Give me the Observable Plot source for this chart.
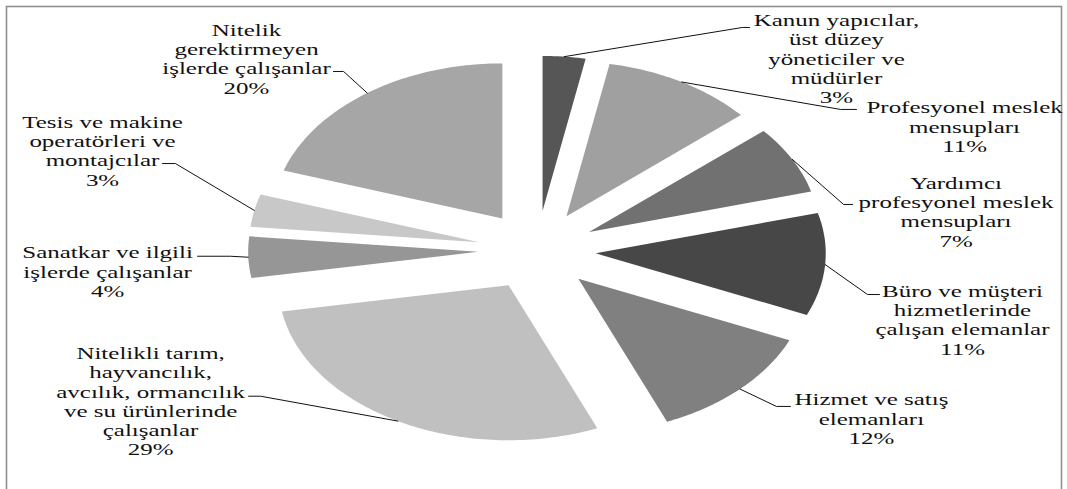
<!DOCTYPE html>
<html>
<head>
<meta charset="utf-8">
<script src="https://cdn.jsdelivr.net/npm/d3@7"></script>
<script src="https://cdn.jsdelivr.net/npm/@observablehq/plot@0.6"></script>
<style>
  html, body { margin: 0; padding: 0; background: #fff; }
  #chart svg text { font-family: "Liberation Serif", "Times New Roman", serif !important; }
</style>
</head>
<body>
<div id="chart"></div>
<script>
// ---- data ----
const categories = [
  "Kanun yapıcılar, üst düzey yöneticiler ve müdürler",
  "Profesyonel meslek mensupları",
  "Yardımcı profesyonel meslek mensupları",
  "Büro ve müşteri hizmetlerinde çalışan elemanlar",
  "Hizmet ve satış elemanları",
  "Nitelikli tarım, hayvancılık, avcılık, ormancılık ve su ürünlerinde çalışanlar",
  "Sanatkar ve ilgili işlerde çalışanlar",
  "Tesis ve makine operatörleri ve montajcılar",
  "Nitelik gerektirmeyen işlerde çalışanlar"
];
// shares in percent (labels show rounded values)
const values = [3.0, 10.7, 7.1, 10.7, 12.2, 28.6, 4.3, 3.4, 20.0];
// label text split into lines as in the reference
const labelLines = [
  ["Kanun yapıcılar,", "üst düzey", "yöneticiler ve", "müdürler"],
  ["Profesyonel meslek", "mensupları"],
  ["Yardımcı", "profesyonel meslek", "mensupları"],
  ["Büro ve müşteri", "hizmetlerinde", "çalışan elemanlar"],
  ["Hizmet ve satış", "elemanları"],
  ["Nitelikli tarım,", "hayvancılık,", "avcılık, ormancılık", "ve su ürünlerinde", "çalışanlar"],
  ["Sanatkar ve ilgili", "işlerde çalışanlar"],
  ["Tesis ve makine", "operatörleri ve", "montajcılar"],
  ["Nitelik", "gerektirmeyen", "işlerde çalışanlar"]
];

// ---- styles ----
const sliceColors = ["#565656", "#a0a0a0", "#717171", "#474747", "#808080", "#c0c0c0", "#969696", "#c8c8c8", "#a6a6a6"];

// ---- layout (in pie units: radius = 1, centre = 0,0) ----
const explode = 0.256;
const labelPos = [
  [1.302, 1.239], [1.859, 0.800], [1.822, 0.252], [1.850, -0.445], [1.454, -1.084],
  [-1.680, -0.971], [-1.867, -0.135], [-1.889, 0.645], [-1.263, 1.239]
];
// leader elbow and end point, next to the label text
const leaderPts = [
  [[0.893, 1.439], [0.924, 1.439]],
  [[1.320, 0.910], [1.389, 0.910]],
  [[1.333, 0.297], [1.372, 0.297]],
  [[1.437, -0.284], [1.489, -0.284]],
  [[1.041, -1.006], [1.102, -1.006]],
  [[-1.202, -0.940], [-1.254, -0.940]],
  [[-1.333, -0.037], [-1.476, -0.037]],
  [[-1.572, 0.561], [-1.628, 0.561]],
  [[-0.841, 1.155], [-0.885, 1.155]]
];

// ---- build slice geometry from the values ----
const total = d3.sum(values);
const slicePts = [];
const leaders = [];
const labels = [];
let acc = 0;
values.forEach((v, i) => {
  const t0 = acc / total * 2 * Math.PI;
  acc += v;
  const t1 = acc / total * 2 * Math.PI;
  const tm = (t0 + t1) / 2;
  const ax = explode * Math.sin(tm), ay = explode * Math.cos(tm);
  slicePts.push({key: i, x: ax, y: ay, color: sliceColors[i]});
  const n = Math.max(6, Math.ceil((t1 - t0) / (Math.PI / 180)));
  for (let k = 0; k <= n; k++) {
    const t = t0 + (t1 - t0) * k / n;
    slicePts.push({key: i, x: ax + Math.sin(t), y: ay + Math.cos(t), color: sliceColors[i]});
  }
  // leader: from middle of the outer arc to the label
  leaders.push({key: i, x: ax + Math.sin(tm), y: ay + Math.cos(tm)});
  leaderPts[i].forEach(p => leaders.push({key: i, x: p[0], y: p[1]}));
  labels.push({
    x: labelPos[i][0], y: labelPos[i][1],
    text: labelLines[i].join("\n") + "\n" + Math.round(v) + "%",
    name: categories[i]
  });
});

const W = 1067, H = 489;
const cx = 536.5, cy = 250, rx = 230, ry = 155;

const svg = Plot.plot({
  width: W,
  height: H,
  margin: 0,
  x: {domain: [-cx / rx, (W - cx) / rx], axis: null},
  y: {domain: [-(H - cy) / ry, cy / ry], axis: null},
  color: {type: "identity"},
  style: {background: "#fff", overflow: "hidden", fontFamily: "'Liberation Serif', 'Times New Roman', serif"},
  marks: [
    Plot.frame({stroke: "#8f8f8f", strokeWidth: 1.6, insetLeft: 6, insetTop: 6, insetRight: 6, insetBottom: -20}),
    Plot.line(slicePts, {x: "x", y: "y", z: "key", fill: "color", stroke: "none", curve: "linear-closed"}),
    Plot.line(leaders, {x: "x", y: "y", z: "key", stroke: "#111", strokeWidth: 1, curve: "linear"}),
    Plot.text(labels, {
      x: "x", y: "y", text: "text",
      fontFamily: "'Liberation Serif', 'Times New Roman', serif",
      fontSize: 17, lineHeight: 1.135, fill: "#111",
      textAnchor: "middle", lineAnchor: "middle"
    })
  ]
});

// widen the text horizontally like the stretched reference
const sX = 1.47;
svg.querySelectorAll("text").forEach(t => {
  t.style.fontFamily = "'Liberation Serif', 'Times New Roman', serif";
  const tr = t.getAttribute("transform");
  if (tr && tr.includes("translate")) {
    t.setAttribute("transform", tr + ` scale(${sX},1)`);
  } else {
    const x = +t.getAttribute("x") || 0, y = +t.getAttribute("y") || 0;
    t.removeAttribute("x"); t.removeAttribute("y");
    t.setAttribute("transform", `translate(${x},${y}) scale(${sX},1)`);
  }
});

document.getElementById("chart").appendChild(svg);
</script>
</body>
</html>
